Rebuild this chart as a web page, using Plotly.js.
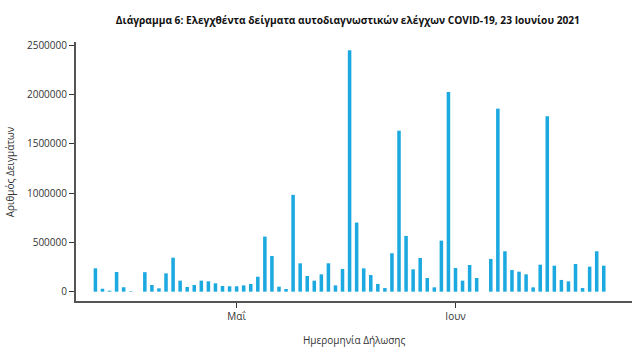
<!DOCTYPE html>
<html>
<head>
<meta charset="utf-8">
<script src="https://cdn.plot.ly/plotly-3.0.1.min.js"></script>
<style>html,body{margin:0;padding:0;background:#fff;}#chart{width:632px;height:351px;}</style>
</head>
<body>
<div id="chart"></div>
<script>
// Daily samples, 11 April 2021 to 22 June 2021
const startDate = '2021-04-11';
const samples = [
  237000, 30000, 10000, 200000, 45000, 5000, 0, 198000, 68000, 34000,
  186000, 345000, 112000, 48000, 68000, 112000, 105000, 85000, 58000, 55000,
  55000, 64000, 78000, 152000, 559000, 362000, 51000, 27000, 982000, 288000,
  159000, 112000, 176000, 288000, 64000, 230000, 2449000, 701000, 237000, 169000,
  78000, 37000, 390000, 1633000, 566000, 227000, 342000, 139000, 44000, 518000,
  2026000, 240000, 112000, 271000, 139000, 0, 332000, 1857000, 410000, 220000,
  203000, 176000, 44000, 274000, 1779000, 264000, 119000, 105000, 281000, 37000,
  254000, 410000, 264000
];
const xTickVals = ['2021-05-01', '2021-06-01'];
const xTickText = ['Μαΐ', 'Ιουν'];
const yTickVals = [0, 500000, 1000000, 1500000, 2000000, 2500000];
const yTickText = ['0', '500000', '1000000', '1500000', '2000000', '2500000'];

function addDays(iso, n) {
  const d = new Date(iso + 'T00:00:00Z');
  d.setUTCDate(d.getUTCDate() + n);
  return d.toISOString().slice(0, 10);
}
const dates = samples.map((_, i) => addDays(startDate, i));

const font = 'Open Sans, DejaVu Sans, sans-serif';

const trace = {
  type: 'bar',
  x: dates,
  y: samples,
  marker: {color: '#1ca9e0'},
  hoverinfo: 'x+y'
};

const layout = {
  width: 632,
  height: 351,
  margin: {l: 76, r: 0, t: 42, b: 50},
  paper_bgcolor: '#ffffff',
  plot_bgcolor: '#ffffff',
  bargap: 0.5,
  showlegend: false,
  title: {
    text: '<b>Διάγραμμα 6: Ελεγχθέντα δείγματα αυτοδιαγνωστικών ελέγχων COVID-19, 23 Ιουνίου 2021</b>',
    font: {family: font, size: 10.2, color: '#111'},
    x: 0.489, xref: 'paper', xanchor: 'center',
    y: 0.943, yref: 'container', yanchor: 'middle'
  },
  xaxis: {
    type: 'date',
    range: ['2021-04-08 06:00', '2021-06-26 00:00'],
    tickmode: 'array',
    tickvals: xTickVals,
    ticktext: xTickText,
    ticks: 'outside', ticklen: 5, tickwidth: 1, tickcolor: '#333',
    showline: true, linecolor: '#555', linewidth: 2,
    showgrid: false, zeroline: false,
    tickfont: {family: font, size: 10, color: '#333'},
    fixedrange: true
  },
  yaxis: {
    range: [-94500, 2533000],
    tickmode: 'array',
    tickvals: yTickVals,
    ticktext: yTickText,
    ticks: 'outside', ticklen: 5, tickwidth: 1, tickcolor: '#333',
    showline: true, linecolor: '#555', linewidth: 2,
    showgrid: false, zeroline: false,
    tickfont: {family: font, size: 10, color: '#333'},
    fixedrange: true
  },
  annotations: [
    {
      text: 'Αριθμός Δειγμάτων', textangle: -90,
      xref: 'paper', yref: 'paper', x: -0.119, y: 0.5,
      xanchor: 'center', yanchor: 'middle', showarrow: false,
      font: {family: font, size: 10, color: '#333'}
    },
    {
      text: 'Ημερομηνία Δήλωσης',
      xref: 'paper', yref: 'paper', x: 0.5, y: -0.1506,
      xanchor: 'center', yanchor: 'middle', showarrow: false,
      font: {family: font, size: 10, color: '#333'}
    }
  ]
};

Plotly.newPlot('chart', [trace], layout, {displayModeBar: false, staticPlot: true});
</script>
</body>
</html>
